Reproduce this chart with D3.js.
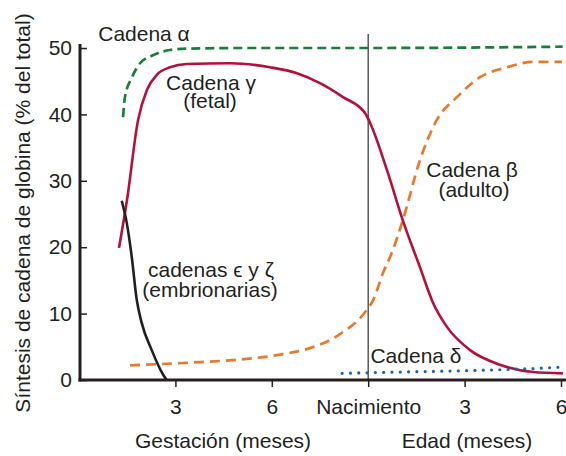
<!DOCTYPE html>
<html>
<head>
<meta charset="utf-8">
<script src="https://cdn.jsdelivr.net/npm/d3@7"></script>
<style>
  body { margin: 0; background: #fff; }
  text { font-family: "Liberation Sans", Arial, Helvetica, sans-serif; fill: #231f20; }
</style>
</head>
<body>
<div class="chart"></div>
<script>
// months since conception (birth = 9), value = % of total globin synthesis
const alphaMonths = [1.37, 1.43, 1.65, 1.90, 2.30, 2.83, 3.36, 5.0, 9.0, 15.05];
const alphaValues = [39.6, 42.6, 45.6, 47.7, 48.9, 49.7, 49.9, 50.0, 50.0, 50.2];

const gammaMonths = [1.245, 1.494, 1.836, 2.116, 2.428, 2.832, 3.361, 4.70, 5.945, 6.785, 7.50, 8.216, 8.90, 9.06, 9.585, 10.08, 10.61, 11.02, 11.45, 12.17, 13.10, 14.13, 15.06];
const gammaValues = [19.9, 27.1, 39.1, 43.7, 46.0, 47.1, 47.6, 47.7, 47.1, 46.2, 44.7, 42.6, 40.2, 38.7, 31.6, 24.0, 17.0, 11.6, 8.0, 4.5, 2.3, 1.2, 1.0];

const betaMonths = [1.587, 3.766, 4.793, 6.349, 7.19, 8.12, 8.90, 9.15, 9.46, 9.77, 10.08, 10.61, 11.14, 11.76, 12.48, 13.32, 14.13, 15.03];
const betaValues = [2.2, 2.7, 3.0, 3.9, 4.8, 6.9, 10.2, 12.0, 16.1, 19.6, 24.1, 33.1, 39.2, 42.6, 45.6, 47.1, 47.9, 47.9];

const embryoMonths = [1.329, 1.485, 1.640, 1.796, 1.951, 2.263, 2.624, 2.730];
const embryoValues = [27.0, 23.7, 18.6, 12.1, 8.6, 4.5, 0.75, 0];

const deltaMonths = [8.19, 10.0, 12.0, 14.0, 15.06];
const deltaValues = [1.0, 1.2, 1.4, 1.7, 1.95];

const xTicks = [3, 6, 9, 12, 15];
const xTickLabels = ['3', '6', 'Nacimiento', '3', '6'];
const yTicks = [0, 10, 20, 30, 40, 50];
const birthMonth = 9;

const width = 566;
const height = 456;
const ink = '#231f20';

const svg = d3.select('.chart').append('svg')
  .attr('width', width)
  .attr('height', height);

const x = d3.scaleLinear().domain([0, 15]).range([79, 561]);
const y = d3.scaleLinear().domain([0, 50]).range([380, 48]);

// birth line
svg.append('line')
  .attr('x1', x(birthMonth)).attr('x2', x(birthMonth))
  .attr('y1', 34).attr('y2', y(0))
  .attr('stroke', '#4d4d4d')
  .attr('stroke-width', 1.4);

// axes
const yAxis = d3.axisLeft(y).tickValues(yTicks).tickSize(-7).tickPadding(8);
const yG = svg.append('g').attr('transform', `translate(${x(0) + 1},0)`).call(yAxis);

const xAxis = d3.axisBottom(x).tickValues(xTicks).tickSize(7).tickPadding(12)
  .tickFormat((d, i) => xTickLabels[i]);
const xG = svg.append('g').attr('transform', `translate(0,${y(0)})`).call(xAxis);

[yG, xG].forEach(g => {
  g.select('.domain').remove();
  g.selectAll('line').attr('stroke', ink).attr('stroke-width', 1.5);
  g.selectAll('text').attr('font-size', 21).attr('fill', ink)
    .style('font-family', '"Liberation Sans", Arial, sans-serif');
});

svg.append('line')
  .attr('x1', x(0) + 1).attr('x2', x(0) + 1)
  .attr('y1', 44).attr('y2', y(0) + 1.5)
  .attr('stroke', ink).attr('stroke-width', 3);
svg.append('line')
  .attr('x1', x(0) - 0.5).attr('x2', width)
  .attr('y1', y(0)).attr('y2', y(0))
  .attr('stroke', ink).attr('stroke-width', 3);

// curves
const line = d3.line()
  .x(d => x(d[0]))
  .y(d => y(d[1]))
  .curve(d3.curveMonotoneX);

const series = [
  { months: alphaMonths, values: alphaValues, color: '#1a7d3c', dash: '9,5', width: 2.7 },
  { months: betaMonths, values: betaValues, color: '#e8792a', dash: '10,6', width: 2.7 },
  { months: gammaMonths, values: gammaValues, color: '#b3103e', dash: null, width: 2.6 },
  { months: embryoMonths, values: embryoValues, color: '#231f20', dash: null, width: 2.6 },
  { months: deltaMonths, values: deltaValues, color: '#1a63a8', dash: '0,8.3', width: 3.2, cap: 'round' }
];

series.forEach(s => {
  svg.append('path')
    .datum(d3.zip(s.months, s.values))
    .attr('d', line)
    .attr('fill', 'none')
    .attr('stroke', s.color)
    .attr('stroke-width', s.width)
    .attr('stroke-dasharray', s.dash)
    .attr('stroke-linecap', s.cap || 'butt');
});

// annotations
const notes = [
  { text: 'Cadena α', x: 144, y: 41 },
  { text: 'Cadena γ', x: 211, y: 90 },
  { text: '(fetal)', x: 210, y: 108 },
  { text: 'Cadena β', x: 472, y: 177 },
  { text: '(adulto)', x: 474, y: 197 },
  { text: 'cadenas ϵ y ζ', x: 211, y: 277 },
  { text: '(embrionarias)', x: 210, y: 297 },
  { text: 'Cadena δ', x: 416, y: 363 },
  { text: 'Gestación (meses)', x: 223, y: 448 },
  { text: 'Edad (meses)', x: 467, y: 448 }
];

svg.selectAll('.note')
  .data(notes)
  .enter()
  .append('text')
  .attr('class', 'note')
  .attr('x', d => d.x)
  .attr('y', d => d.y)
  .attr('text-anchor', 'middle')
  .attr('font-size', 21)
  .text(d => d.text);

svg.append('text')
  .attr('transform', 'translate(30,213) rotate(-90)')
  .attr('text-anchor', 'middle')
  .attr('font-size', 21)
  .text('Síntesis de cadena de globina (% del total)');
</script>
</body>
</html>
